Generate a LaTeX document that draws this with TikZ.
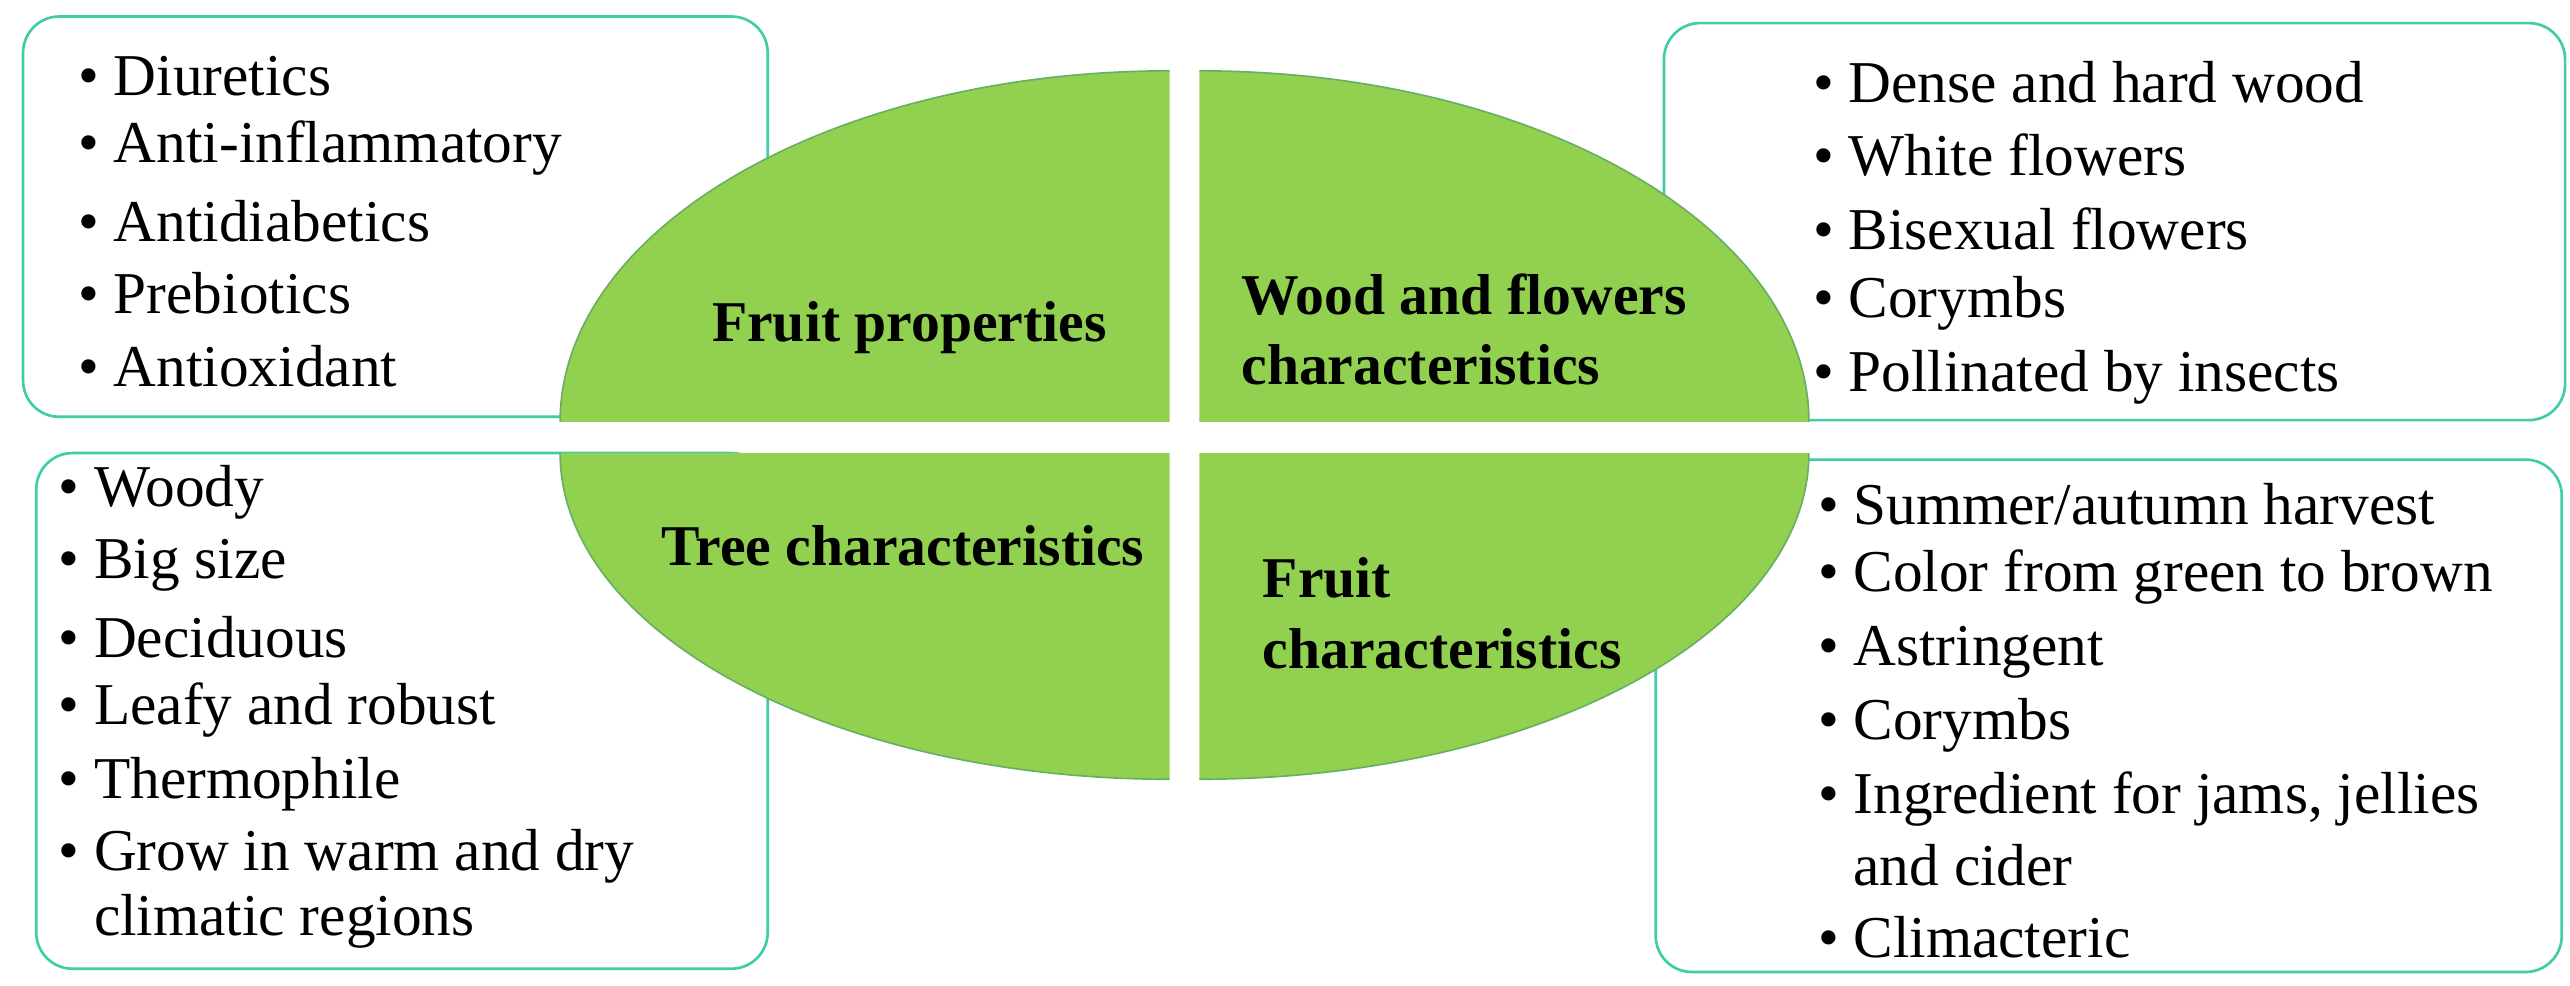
\documentclass[tikz,border=0pt]{standalone}
\usepackage{fontspec}
\setmainfont{Liberation Serif}
\definecolor{gr}{HTML}{92D050}
\definecolor{tl}{HTML}{40CCA8}
\definecolor{edge}{HTML}{4A9A70}
\begin{document}
\begin{tikzpicture}[x=1pt,y=-1pt,
 box/.style={draw=tl,line width=1.6pt,fill=white,rounded corners=22pt},
 quad/.style={fill=gr},
 rim/.style={draw=edge!60!gr,line width=1pt},
 it/.style={anchor=west,font=\fontsize{36}{40}\selectfont},
 lab/.style={font=\fontsize{35}{43}\selectfont\bfseries,align=left}]
\useasboundingbox (0,0) rectangle (1560,598);
\draw[box] (14,10) rectangle (466,253);
\draw[box] (1010,14) rectangle (1557,255);
\draw[box] (22,275) rectangle (466,588);
\draw[box] (1005,279) rectangle (1555,590);
% quadrants
\fill[quad] (710,256) -- (340,256) arc[start angle=180,end angle=270,x radius=370,y radius=213] -- cycle;
\fill[quad] (728,256) -- (728,43) arc[start angle=270,end angle=360,x radius=370,y radius=213] -- cycle;
\fill[quad] (710,275) -- (340,275) arc[start angle=180,end angle=90,x radius=370,y radius=198] -- cycle;
\fill[quad] (728,275) -- (728,473) arc[start angle=90,end angle=0,x radius=370,y radius=198] -- cycle;
\draw[rim] (340,256) arc[start angle=180,end angle=270,x radius=370,y radius=213];
\draw[rim] (728,43) arc[start angle=270,end angle=360,x radius=370,y radius=213];
\draw[rim] (340,275) arc[start angle=180,end angle=90,x radius=370,y radius=198];
\draw[rim] (728,473) arc[start angle=90,end angle=0,x radius=370,y radius=198];
\node[lab,anchor=center] (fp) at (552,199) {Fruit properties};
\node[lab,anchor=west] (wf) at (750,200) {Wood and flowers\\characteristics};
\node[lab,anchor=center] (tc) at (548,331) {Tree characteristics};
\node[lab,anchor=west] (fc) at (763,372) {Fruit\\characteristics};
% lists
\foreach \t [count=\i] in {Diuretics,Anti-inflammatory,Antidiabetics,Prebiotics,Antioxidant}
  \node[it] (a\i) at (44,{46+44*(\i-1)}) {•\hspace{9pt}\t};
\foreach \t/\y [count=\i] in {Dense and hard wood/50,White flowers/94,Bisexual flowers/139,Corymbs/184,Pollinated by insects/229}
  \node[it] (b\i) at (1097,\y) {•\hspace{9pt}\t};
\foreach \t/\y [count=\i] in {Woody/299,Big size/343,Deciduous/387,Leafy and robust/431,Thermophile/476,Grow in warm and dry/520}
  \node[it] (c\i) at (32,\y) {•\hspace{9pt}\t};
\node[it] (c7) at (c6.west) [yshift=-39pt] {\phantom{•\hspace{9pt}}climatic regions};
\foreach \t/\y [count=\i] in {{Summer/autumn harvest}/306,Color from green to brown/350,Astringent/396,Corymbs/440,{Ingredient for jams, jellies}/485,Climacteric/569}
  \node[it] (d\i) at (1100,\y) {•\hspace{9pt}\t};
\node[it] (d7) at (d5.west) [yshift=-40pt] {\phantom{•\hspace{9pt}}and cider};
\end{tikzpicture}
\end{document}
